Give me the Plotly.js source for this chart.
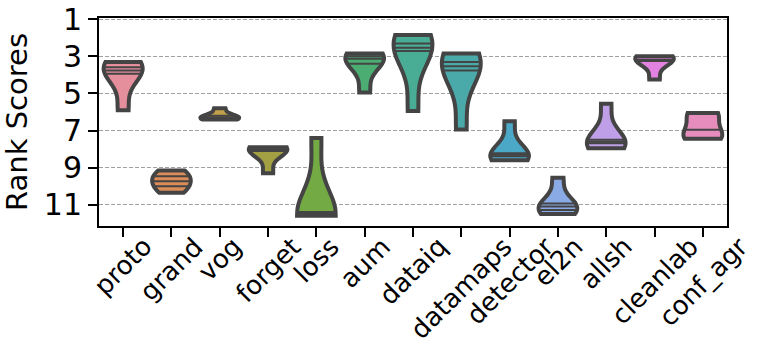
<!DOCTYPE html>
<html>
<head>
<meta charset="utf-8">
<script src="https://cdn.plot.ly/plotly-3.0.1.min.js"></script>
<style>html,body{margin:0;padding:0;background:#fff;}#chart{width:761px;height:350px;}</style>
</head>
<body>
<div id="chart"></div>
<script>
// Categories (x tick labels)
const categories = ['proto','grand','vog','forget','loss','aum','dataiq','datamaps','detector','el2n','allsh','cleanlab','conf_agr'];

// Rank scores per method
const proto    = [3.3, 3.58, 3.76, 3.94, 5.9];
const grand    = [9.15, 9.46, 9.73, 10.01, 10.35];
const vog      = [5.8, 6.2, 6.3, 6.35, 6.4];
const forget   = [7.9, 8.0, 8.05, 8.1, 9.3];
const loss     = [7.4, 11.4, 11.5, 11.55, 11.6];
const aum      = [2.85, 3.0, 3.13, 3.4, 4.95];
const dataiq   = [1.85, 2.31, 2.53, 2.71, 5.95];
const datamaps = [2.85, 3.3, 3.53, 3.76, 6.95];
const detector = [6.5, 8.22, 8.3, 8.39, 8.6];
const el2n     = [9.55, 10.93, 11.1, 11.29, 11.5];
const allsh    = [5.55, 7.5, 7.6, 7.68, 7.95];
const cleanlab = [3.0, 3.05, 3.2, 3.25, 4.25];
const conf_agr = [6.05, 6.1, 6.96, 7.4, 7.45];

const seriesValues = [proto, grand, vog, forget, loss, aum, dataiq, datamaps, detector, el2n, allsh, cleanlab, conf_agr];

// y ticks
const yTicks = [1, 3, 5, 7, 9, 11];

const colors = ['#E58E9C','#DC8C58','#C3A14A','#A3A043','#74AA43','#4CAD72','#49AD95','#4AAAAA','#4BA8C6','#8AAAE6','#BFA0E8','#E283E2','#E68DBE'];

const VW = 0.8;          // violin width (category units)
const OUTLINE = '#444444';

function std1(a){const m=a.reduce((s,v)=>s+v,0)/a.length;return Math.sqrt(a.reduce((s,v)=>s+(v-m)*(v-m),0)/(a.length-1));}
function scott(a){return std1(a)*Math.pow(a.length,-0.2);}
function kde(a,bw,x){let s=0;for(const v of a){const z=(x-v)/bw;s+=Math.exp(-0.5*z*z);}return s/(a.length*bw*Math.sqrt(2*Math.PI));}
function pct(a,p){const s=[...a].sort((x,y)=>x-y);const idx=(s.length-1)*p;const lo=Math.floor(idx),hi=Math.ceil(idx);return s[lo]+(s[hi]-s[lo])*(idx-lo);}

const traces = [];
const qx = [], qy = [];
seriesValues.forEach((vals,i)=>{
  const bw = scott(vals);
  traces.push({
    type:'violin', x0:i, y:vals, name:categories[i],
    bandwidth:bw, spanmode:'hard', scalemode:'width', width:VW,
    points:false, box:{visible:false}, meanline:{visible:false},
    fillcolor:colors[i], opacity:1,
    line:{color:OUTLINE, width:4},
    hoverinfo:'skip', showlegend:false
  });
  const mn=Math.min(...vals), mx=Math.max(...vals);
  let dmax=0;
  for(let k=0;k<=400;k++){const y=mn+(mx-mn)*k/400;dmax=Math.max(dmax,kde(vals,bw,y));}
  [0.25,0.5,0.75].forEach(p=>{
    const q=pct(vals,p);
    const hw=VW/2*kde(vals,bw,q)/dmax;
    qx.push(i-hw,i+hw,null); qy.push(q,q,null);
  });
});
traces.push({type:'scatter', mode:'lines', x:qx, y:qy, line:{color:OUTLINE, width:2}, hoverinfo:'skip', showlegend:false});

const font = {family:'DejaVu Sans, sans-serif', size:30, color:'#000'};
const xfont = {family:'DejaVu Sans, sans-serif', size:26, color:'#000'};

// x tick labels, rotated and centred under each tick (matplotlib style)
const annotations = categories.map((c,i)=>({
  xref:'x', x:i, yref:'paper', y:0, yshift:-4,
  text:c, textangle:-45, xanchor:'center', yanchor:'top',
  showarrow:false, font:xfont, borderpad:0
}));

const layout = {
  width:761, height:350,
  margin:{l:99, r:34, t:18, b:124},
  paper_bgcolor:'#fff', plot_bgcolor:'#fff',
  font:font,
  showlegend:false,
  violingap:0, violinmode:'overlay',
  annotations:annotations,
  xaxis:{
    type:'linear', range:[-0.5,12.5],
    tickmode:'array', tickvals:categories.map((c,i)=>i), ticktext:categories,
    showticklabels:false,
    ticks:'outside', ticklen:9, tickwidth:2, tickcolor:'#000',
    showline:true, linewidth:2, linecolor:'#000', mirror:true,
    showgrid:false, zeroline:false
  },
  yaxis:{
    range:[12.15,0.93],
    tickmode:'array', tickvals:yTicks, ticktext:yTicks.map(String),
    tickfont:font,
    ticks:'outside', ticklen:9, tickwidth:2, tickcolor:'#000',
    showline:true, linewidth:2, linecolor:'#000', mirror:true,
    showgrid:true, gridcolor:'#a0a0a0', gridwidth:1, griddash:'4px,2px',
    zeroline:false,
    title:{text:'Rank Scores', font:{family:'DejaVu Sans, sans-serif', size:29, color:'#000'}, standoff:14}
  }
};
Plotly.newPlot('chart', traces, layout, {staticPlot:true, displayModeBar:false});
</script>
</body>
</html>
